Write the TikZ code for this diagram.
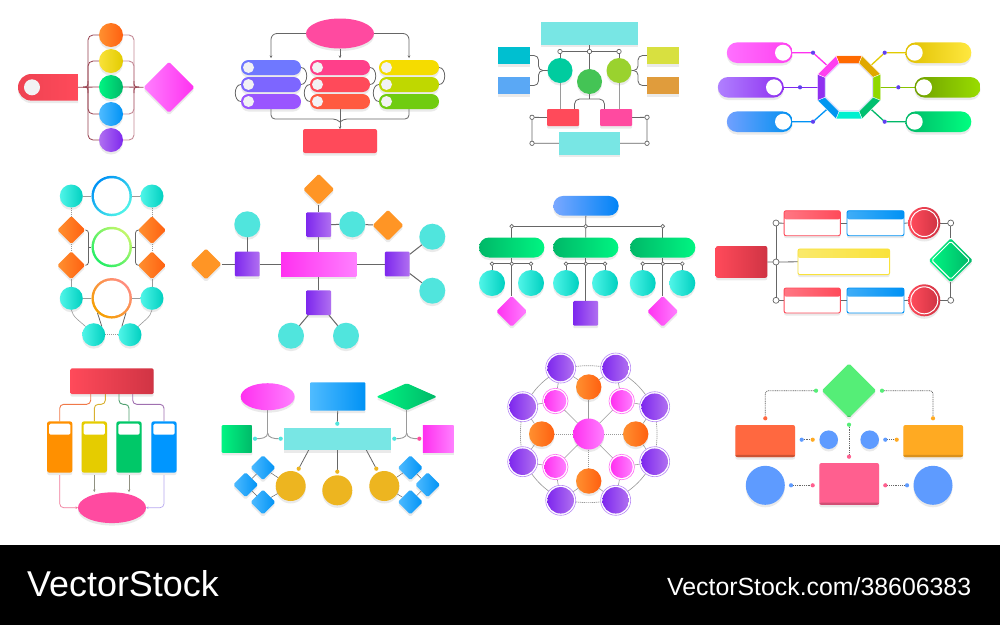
\documentclass[tikz,border=0pt]{standalone}
\usepackage{fontspec}
\setmainfont{Liberation Sans}
\usetikzlibrary{shapes.geometric,shapes.misc,shadows,backgrounds,arrows.meta,calc}
\definecolor{orgA}{HTML}{FF9030}\definecolor{orgB}{HTML}{FF6010}
\definecolor{yelA}{HTML}{F9E23A}\definecolor{yelB}{HTML}{E2CB00}
\definecolor{grnA}{HTML}{00F582}\definecolor{grnB}{HTML}{00B868}
\definecolor{bluA}{HTML}{4FBBFF}\definecolor{bluB}{HTML}{0092F5}
\definecolor{purA}{HTML}{B070F0}\definecolor{purB}{HTML}{7E28EE}
\definecolor{magA}{HTML}{FF80FF}\definecolor{magB}{HTML}{FF30F0}
\definecolor{redA}{HTML}{FF4A5A}\definecolor{redB}{HTML}{D03444}
\definecolor{hot}{HTML}{FF4AA0}
\definecolor{tealA}{HTML}{50F5E8}\definecolor{tealB}{HTML}{00D0C0}
\definecolor{tflat}{HTML}{50E5DD}
\definecolor{aqua}{HTML}{78E6E4}
\definecolor{lblu}{HTML}{7AA8FF}
\definecolor{paper}{HTML}{F2F2F4}
\definecolor{wire}{HTML}{666666}
\definecolor{wireB}{HTML}{9A9A9A}
\definecolor{maroon}{HTML}{96404E}
\definecolor{rose}{HTML}{C48A96}
\definecolor{dotp}{HTML}{6040F0}
\definecolor{gold}{HTML}{EDB520}
\definecolor{orangeflat}{HTML}{FF9525}
\definecolor{skyflat}{HTML}{5E9BFF}
\definecolor{leaf}{HTML}{55EE77}
\definecolor{tomato}{HTML}{FF6840}
\definecolor{amber}{HTML}{FFAA22}
\definecolor{rosepk}{HTML}{FF5F8F}
\definecolor{limeline}{HTML}{88C400}
\definecolor{halo}{HTML}{D4D4FF}
\tikzset{
  gr/.style 2 args={left color=#1,right color=#2,draw=none},
  shad/.style={drop shadow={shadow xshift=0pt,shadow yshift=-2.5pt,opacity=.16}},
  sz/.style 2 args={rectangle,inner sep=0pt,outer sep=0pt,minimum width=#1pt,minimum height=#2pt},
  circ/.style={circle,inner sep=0pt,outer sep=0pt,minimum size=#1pt},
  dia/.style 2 args={diamond,aspect=1,inner sep=0pt,outer sep=0pt,minimum width=#1pt,minimum height=#2pt,rounded corners=1.5pt},
  pill/.style 2 args={rounded rectangle,inner sep=0pt,outer sep=0pt,minimum width=#1pt,minimum height=#2pt},
  ell/.style 2 args={ellipse,inner sep=0pt,outer sep=0pt,minimum width=#1pt,minimum height=#2pt},
  tl/.style={circ=23,gr={tealA}{tealB},shad},
  tlb/.style={circ=26,gr={tealA}{tealB},shad},
  tf/.style={circ=#1,fill=tflat,shad},
  orgd/.style={dia={31}{31},fill=orangeflat,shad},
  orgg/.style={dia={28}{28},gr={orgA}{orgB},shad},
  sq/.style={sz={24.7}{24.7},rounded corners=1pt,gr={purB}{purA},shad},
  magd/.style={dia={31}{31},gr={magB}{magA},shad},
  blud/.style={dia={25}{25},gr={bluA}{bluB},shad},
  ln/.style={draw=wire,line width=.8pt},
  lg/.style={draw=wireB,line width=.9pt},
  lt/.style={draw=wireB,line width=.6pt},
  dl/.style={draw=wire,line width=.7pt,dash pattern=on 1pt off .8pt},
  dg/.style={draw=wireB,line width=.9pt,dash pattern=on 1.2pt off .8pt},
  ju/.style={circ=#1,draw=wire,fill=white,line width=.7pt},
  pt/.style={circ=4.2,fill=#1},
  tip/.style={-{Stealth[length=2.5pt,width=2.5pt]}},
  lip/.style={path picture={\fill[#1] ([yshift=2.2pt]path picture bounding box.south west) rectangle (path picture bounding box.south east);}},
  card/.style n args={4}{sz={#1}{#2},rounded corners=2pt,draw=#3,line width=.9pt,fill=white,shad,
     path picture={\shade[left color=#3!75!white,right color=#3] (path picture bounding box.north west) rectangle ([yshift=-#4pt]path picture bounding box.north east);}},
}
\begin{document}
\begin{tikzpicture}[x=1pt,y=-1pt]
\useasboundingbox (0,0) rectangle (1000,625);
\begin{scope}[on background layer]
\fill[white] (0,0) rectangle (1000,625);
\end{scope}

% ---------- panel 1
\node[circ=24,gr={orgA}{orgB},shad] (a1) at (111,35) {};
\node[circ=24,gr={yelA}{yelB},shad] (a2) at (111,61) {};
\node[circ=24,gr={grnA}{grnB},shad] (a3) at (111,87) {};
\node[circ=24,gr={bluA}{bluB},shad] (a4) at (111,114) {};
\node[circ=24,gr={purA}{purB},shad] (a5) at (111,140) {};
\node[pill={60}{26.6},rounded rectangle east arc=none,gr={redB!35!redA}{redA},shad] (ap) at (48,87.3) {};
\node[circ=16,fill=paper] (apc) at (32,87.3) {};
\node[dia={51}{51},gr={magA}{magB},shad] (ad) at (169,87.3) {};
\coordinate (ajl) at (88,87);
\coordinate (ajr) at (134,87);
\coordinate (atl) at (83,87);
\coordinate (atr) at (139,87);
\begin{scope}[on background layer]
\draw[draw=maroon,line width=.8pt] (ap.east) -- (a3.west);
\draw[draw=maroon,line width=.8pt,rounded corners=5pt] (a1.west) -| (ajl) |- (a5.west);
\draw[draw=maroon,line width=.8pt,rounded corners=5pt] (a2.west) -| (ajl) |- (a4.west);
\draw[draw=maroon,line width=.8pt,rounded corners=3pt] (atl) -| ([yshift=6pt]ajl);
\draw[draw=maroon,line width=.8pt,rounded corners=3pt] (atl) -| ([yshift=-6pt]ajl);
\draw[draw=maroon,line width=.8pt] (a3.east) -- (ad.west);
\draw[draw=rose,line width=.9pt,rounded corners=5pt] (a1.east) -| (ajr) |- (a5.east);
\draw[draw=rose,line width=.9pt,rounded corners=5pt] (a2.east) -| (ajr) |- (a4.east);
\draw[draw=maroon,line width=.8pt,rounded corners=3pt] (atr) -| ([yshift=6pt]ajr);
\draw[draw=maroon,line width=.8pt,rounded corners=3pt] (atr) -| ([yshift=-6pt]ajr);
\end{scope}

% ---------- panel 2
\node[ell={68}{30},fill=hot,shad] (be) at (340,33.5) {};
\foreach \n/\x/\y/\c in {b1/271/67.5/6F78FF,b2/271/84.5/7D66FF,b3/271/101.5/9A55FF,
  b4/340/67.5/FF3F8A,b5/340/84.5/FF4A5A,b6/340/101.5/FF5A40,
  b7/409/67.5/F5DC00,b8/409/84.5/BFD800,b9/409/101.5/70CC10}{
  \definecolor{tmpc}{HTML}{\c}
  \node[pill={60}{15},fill=tmpc,shad] (\n) at (\x,\y) {};
  \node[circ=11,fill=paper] (\n-c) at (\x-22.5,\y) {};
}
\node[sz={74}{24},rounded corners=2pt,fill=redA,shad] (br) at (340,141) {};
\coordinate (bj) at (340,119);
\begin{scope}[on background layer]
\draw[ln,tip,rounded corners=6pt] (be.west) -| ([yshift=2pt]b1.north);
\draw[ln,tip] (be.south) -- ([yshift=2pt]b4.north);
\draw[ln,tip,rounded corners=6pt] (be.east) -| ([yshift=2pt]b7.north);
\draw[ln,rounded corners=4pt] (b3.south) |- ([xshift=-3pt]bj) -- ([yshift=-3pt]bj);
\draw[ln,rounded corners=4pt] (b9.south) |- ([xshift=3pt]bj) -- ([yshift=-3pt]bj);
\draw[ln,tip] (b6.south) -- (br.north);
\draw[ln] (b1.east) to[out=0,in=0,looseness=1.15] (b2.east);
\draw[ln] (b2.west) to[out=180,in=180,looseness=1.15] (b3.west);
\draw[ln] (b4.east) to[out=0,in=0,looseness=1.15] (b5.east);
\draw[ln] (b5.west) to[out=180,in=180,looseness=1.15] (b6.west);
\draw[ln] (b7.east) to[out=0,in=0,looseness=1.15] (b8.east);
\draw[ln] (b8.west) to[out=180,in=180,looseness=1.15] (b9.west);
\end{scope}

% ---------- panel 3
\node[sz={97}{23},fill=aqua,shad] (ct) at (589.5,33.2) {};
\definecolor{tmpc}{HTML}{00BFD0}\node[sz={32}{17},fill=tmpc,shad] (cl1) at (514,55.5) {};
\definecolor{tmpc}{HTML}{5AA8F5}\node[sz={32}{17},fill=tmpc,shad] (cl2) at (514,85.5) {};
\definecolor{tmpc}{HTML}{D8E040}\node[sz={32}{17},fill=tmpc,shad] (cr1) at (663,55.5) {};
\definecolor{tmpc}{HTML}{E09C3C}\node[sz={32}{17},fill=tmpc,shad] (cr2) at (663,85.5) {};
\definecolor{tmpc}{HTML}{00CC9F}\node[circ=25,fill=tmpc,shad] (cc1) at (560,70.5) {};
\definecolor{tmpc}{HTML}{44C455}\node[circ=25,fill=tmpc,shad] (cc2) at (589.5,81.5) {};
\definecolor{tmpc}{HTML}{9AD22E}\node[circ=25,fill=tmpc,shad] (cc3) at (619,70.5) {};
\node[ju=4.4] (cj1) at (560,51.5) {};
\node[ju=4.4] (cj2) at (589.5,51.5) {};
\node[ju=4.4] (cj3) at (619,51.5) {};
\node[sz={32}{17},rounded corners=1pt,fill=redA,shad] (cra) at (563,117.5) {};
\node[sz={32}{17},rounded corners=1pt,fill=hot,shad] (crb) at (616,117.5) {};
\node[sz={61}{23.3},fill=aqua,shad] (cb) at (589.5,143.3) {};
\node[ju=4.4] (cs1) at (532,117.3) {};
\node[ju=4.4] (cs2) at (647,117.3) {};
\node[ju=4.4] (cs3) at (532,143.3) {};
\node[ju=4.4] (cs4) at (647,143.3) {};
\coordinate (ck) at (589.5,99);
\coordinate (cka) at (574.5,109);
\coordinate (ckb) at (604.5,109);
\coordinate (cea) at (560,109);
\coordinate (ceb) at (619,109);
\coordinate (cxl) at (538.5,70.5);
\coordinate (cxr) at (638,70.5);
\begin{scope}[on background layer]
\draw[ln] (ct.south) -- (cj2) -- (cc2.north);
\draw[ln] (cj1) -- (cj2) -- (cj3);
\draw[ln] (cj1) -- (cc1.north);
\draw[ln] (cj3) -- (cc3.north);
\draw[lg] (cc1.south) -- (cea);
\draw[lg] (cc3.south) -- (ceb);
\draw[ln] (cc2.south) -- (ck);
\draw[ln,rounded corners=5pt] (ck) -| (cka);
\draw[ln,rounded corners=5pt] (ck) -| (ckb);
\draw[ln,rounded corners=4.5pt] (cl1.east) -| (cxl) -- (cc1.west);
\draw[ln,rounded corners=4.5pt] (cl2.east) -| (cxl) -- (cc1.west);
\draw[ln,rounded corners=4.5pt] (cr1.west) -| (cxr) -- (cc3.east);
\draw[ln,rounded corners=4.5pt] (cr2.west) -| (cxr) -- (cc3.east);
\draw[ln] (cra.west) -- (cs1) -- (cs3) -- (cb.west);
\draw[ln] (crb.east) -- (cs2) -- (cs4) -- (cb.east);
\end{scope}

% ---------- panel 4
\begin{scope}[shift={(849,87.3)}]
\draw[halo,line width=1pt] (22.5:25.6) -- (67.5:25.6) -- (112.5:25.6) -- (157.5:25.6) -- (202.5:25.6) -- (247.5:25.6) -- (292.5:25.6) -- (337.5:25.6) -- cycle;
\foreach \a/\c/\n in {-90/FF6A00/N,-45/E0A800/NE,0/90D800/E,45/00C070/SE,90/00F0D0/S,135/0096F0/SW,180/9030F0/W,225/FF40F0/NW}{
  \definecolor{tmpc}{HTML}{\c}
  \fill[tmpc,draw=white,line width=.35pt] (\a-22.5:34.1) -- (\a+22.5:34.1) -- (\a+22.5:26) -- (\a-22.5:26) -- cycle;
  \coordinate (d\n) at (\a:30);
}
\end{scope}
\foreach \n/\x/\y/\ca/\cb/\cx in {
 dp1/759.8/52.7/FF70FF/FF40F0/783,
 dp2/750.8/87.3/B080FF/8F30F0/774,
 dp3/759.8/121.7/70A0FF/0090F0/783,
 dp4/938.3/52.7/E0C000/FFE840/914.7,
 dp5/947.5/87.3/70A000/99DD00/924,
 dp6/938.3/121.7/00B868/00FF80/914.7}{
  \definecolor{tmpa}{HTML}{\ca}\definecolor{tmpb}{HTML}{\cb}
  \node[pill={66}{20.6},left color=tmpa,right color=tmpb,shad] (\n) at (\x,\y) {};
  \node[circ=16,fill=white] (\n-c) at (\cx,\y) {};
}
\node[pt=dotp] (dq1) at (813,52.7) {};
\node[pt=dotp] (dq2) at (800,87.3) {};
\node[pt=dotp] (dq3) at (813,121.7) {};
\node[pt=dotp] (dq4) at (884.7,52.7) {};
\node[pt=dotp] (dq5) at (898.3,87.3) {};
\node[pt=dotp] (dq6) at (884.7,121.7) {};
\begin{scope}[on background layer]
\draw[draw=magB,line width=1.3pt] (dp1-c) -- (dq1) -- (dNW);
\draw[draw=purB,line width=1.3pt] (dp2-c) -- (dq2) -- (dW);
\draw[draw=bluB,line width=1.3pt] (dp3-c) -- (dq3) -- (dSW);
\draw[draw=yelB,line width=1.3pt] (dp4-c) -- (dq4) -- (dNE);
\draw[draw=limeline,line width=1.3pt] (dp5-c) -- (dq5) -- (dE);
\draw[draw=grnB,line width=1.3pt] (dp6-c) -- (dq6) -- (dSE);
\end{scope}

% ---------- panel 5
\node[circ=40.5,left color=bluB,right color=tealA,shading angle=45] (e1) at (111.7,196) {};
\node[circ=35.5,fill=white] (e1i) at (111.7,196) {};
\definecolor{ga}{HTML}{22EE66}\definecolor{gb}{HTML}{C4F76A}
\node[circ=40.5,left color=ga,right color=gb,shading angle=135] (e2) at (111.7,247) {};
\node[circ=35.5,fill=white] (e2i) at (111.7,247) {};
\definecolor{oa}{HTML}{F5A000}\definecolor{ob}{HTML}{FF8C80}
\node[circ=40.5,left color=oa,right color=ob,shading angle=135] (e3) at (111.7,298.3) {};
\node[circ=35.5,fill=white] (e3i) at (111.7,298.3) {};
\node[tl] (et1) at (71.3,196) {};
\node[tl] (et2) at (152,196) {};
\node[tl] (et3) at (71.3,298.3) {};
\node[tl] (et4) at (152,298.3) {};
\node[tl] (et5) at (93.7,334.7) {};
\node[tl] (et6) at (130,334.7) {};
\node[orgg] (ed1) at (71.3,230) {};
\node[orgg] (ed2) at (71.3,265.3) {};
\node[orgg] (ed3) at (152,230) {};
\node[orgg] (ed4) at (152,265.3) {};
\coordinate (ejl) at (88.5,247);
\coordinate (ejr) at (135.5,247);
\begin{scope}[on background layer]
\draw[lg] (et1.east) -- (e1.west);
\draw[lg] (e1.east) -- (et2.west);
\draw[lg] (et3.east) -- (e3.west);
\draw[lg] (e3.east) -- (et4.west);
\draw[dg] (et1.south) -- (ed1.north);
\draw[dg] (ed1.south) -- (ed2.north);
\draw[dg] (ed2.south) -- (et3.north);
\draw[dg] (et2.south) -- (ed3.north);
\draw[dg] (ed3.south) -- (ed4.north);
\draw[dg] (ed4.south) -- (et4.north);
\draw[ln,rounded corners=3pt] (ed1.east) -| (ejl) |- (ed2.east);
\draw[ln,rounded corners=3pt] (ed3.west) -| (ejr) |- (ed4.west);
\draw[ln] (ejl) -- (e2.west);
\draw[ln] (ejr) -- (e2.east);
\draw[lt] (et3.south) .. controls +(1,7) and +(-5,-5) .. (et5.north west);
\draw[lt] (et4.south) .. controls +(-1,7) and +(5,-5) .. (et6.north east);
\draw[ln] (e3.south west) -- (et5.north east);
\draw[ln] (e3.south east) -- (et6.north west);
\draw[dg] (et5.east) -- (et6.west);
\end{scope}

% ---------- panel 6
\node[sz={75.3}{24},gr={magB}{magA},shad] (f0) at (318.7,264) {};
\node[sq] (f1) at (247.3,264) {};
\node[sq] (f2) at (397.3,264) {};
\node[sq] (f3) at (318.7,224.7) {};
\node[sq] (f4) at (318.7,302.7) {};
\node[tf=26] (f5) at (247.3,224.3) {};
\node[tf=26] (f6) at (352.3,224.3) {};
\node[tf=26] (f7) at (432.3,236.7) {};
\node[tf=26] (f8) at (432.3,290.7) {};
\node[tf=26] (f9) at (291,335.7) {};
\node[tf=26] (f10) at (346,335.7) {};
\node[orgd] (f11) at (206,264) {};
\node[orgd] (f12) at (318.7,189.3) {};
\node[orgd] (f13) at (388,225.3) {};
\begin{scope}[on background layer]
\draw[ln,line width=1pt] (f1) -- (f0);
\draw[ln,line width=1pt] (f0) -- (f2);
\draw[ln,line width=1pt] (f3) -- (f0);
\draw[ln,line width=1pt] (f0) -- (f4);
\draw[ln,line width=1pt] (f11) -- (f1);
\draw[ln,line width=1pt] (f1) -- (f5);
\draw[ln,line width=1pt] (f12) -- (f3);
\draw[ln,line width=1pt] (f3) -- (f6) -- (f13);
\draw[ln,line width=1pt] (f2) -- (f7);
\draw[ln,line width=1pt] (f2) -- (f8);
\draw[ln,line width=1pt] (f4) -- (f9);
\draw[ln,line width=1pt] (f4) -- (f10);
\end{scope}

% ---------- panel 7
\node[pill={65.4}{19.7},gr={lblu}{bluB!90!blue},shad] (g0) at (586,205.8) {};
\node[ju=3.8] (gj1) at (511.7,226.3) {};
\node[ju=3.8] (gj2) at (585.7,226.3) {};
\node[ju=3.8] (gj3) at (662.7,226.3) {};
\node[pill={65.3}{20},gr={grnB}{grnA},shad] (gp1) at (511.7,247.5) {};
\node[pill={65.3}{20},gr={grnB}{grnA},shad] (gp2) at (585.7,247.5) {};
\node[pill={65.3}{20},gr={grnB}{grnA},shad] (gp3) at (662.7,247.5) {};
\foreach \n/\x in {m1/492,m2/511.7,m3/531,m4/566,m5/585.7,m6/605,m7/642.7,m8/662.7,m9/682.3}{
  \node[ju=3.8] (g\n) at (\x,263.7) {};
}
\node[tlb] (gc1) at (492,283) {};
\node[tlb] (gc2) at (531,283) {};
\node[tlb] (gc3) at (566,283) {};
\node[tlb] (gc4) at (605,283) {};
\node[tlb] (gc5) at (642.7,283) {};
\node[tlb] (gc6) at (682.3,283) {};
\node[magd] (gd1) at (511.7,311.3) {};
\node[sq] (gd2) at (585.7,313.3) {};
\node[magd] (gd3) at (662.7,311.3) {};
\begin{scope}[on background layer]
\draw[ln] (g0) -- (gj2) -- (gp2);
\draw[ln] (gj1) -- (gj2) -- (gj3);
\draw[ln] (gj1) -- (gp1);
\draw[ln] (gj3) -- (gp3);
\draw[ln] (gm1) -- (gm2) -- (gm3);
\draw[ln] (gm4) -- (gm5) -- (gm6);
\draw[ln] (gm7) -- (gm8) -- (gm9);
\draw[ln] (gm1) -- (gc1);
\draw[ln] (gm3) -- (gc2);
\draw[ln] (gm4) -- (gc3);
\draw[ln] (gm6) -- (gc4);
\draw[ln] (gm7) -- (gc5);
\draw[ln] (gm9) -- (gc6);
\draw[ln] (gp1) -- (gm2) -- (gd1);
\draw[ln] (gp2) -- (gm5) -- (gd2);
\draw[ln] (gp3) -- (gm8) -- (gd3);
\end{scope}

% ---------- panel 8
\node[sz={51.6}{31.7},rounded corners=2pt,gr={redA}{redB},shad] (h0) at (741.5,261.9) {};
\node[ju=6] (hj1) at (776,223) {};
\node[ju=6] (hj2) at (776,262) {};
\node[ju=6] (hj3) at (776,300.3) {};
\node[ju=6] (hj4) at (950.7,223) {};
\node[ju=6] (hj5) at (950.7,300.3) {};
\node[card={56.3}{25}{redA}{8.6}] (hc1) at (812.2,223.2) {};
\node[card={57}{25}{bluB}{8.6}] (hc2) at (875.5,223.2) {};
\node[card={91.7}{25.7}{yelA}{9}] (hc3) at (843.8,261.8) {};
\node[card={56.3}{25}{redA}{8.6}] (hc4) at (812.2,300.5) {};
\node[card={57}{25}{bluB}{8.6}] (hc5) at (875.5,300.5) {};
\node[circ=32,gr={redA}{redB},shad] (hr1) at (924.3,223) {};
\node[circ=27,gr={redA}{redB},draw=white,line width=1pt] (hr1i) at (924.3,223) {};
\node[circ=32,gr={redA}{redB},shad] (hr2) at (924.3,300.3) {};
\node[circ=27,gr={redA}{redB},draw=white,line width=1pt] (hr2i) at (924.3,300.3) {};
\node[dia={44}{44},gr={grnA}{grnB},shad] (hd) at (950.7,260.3) {};
\node[dia={38}{38},gr={grnA}{grnB},draw=white,line width=1pt] (hdi) at (950.7,260.3) {};
\begin{scope}[on background layer]
\draw[ln] (h0.east) -- (hj2);
\draw[ln] (hj1) -- (hj2) -- (hj3);
\draw[ln] (hj2) -- (hc3.west);
\draw[ln] (hj1) -- (hc1.west);
\draw[ln] (hc1.east) -- (hc2.west);
\draw[ln] (hc2.east) -- (hr1.west);
\draw[ln] (hr1.east) -- (hj4);
\draw[ln] (hj4) -- (hd.north);
\draw[ln] (hj3) -- (hc4.west);
\draw[ln] (hc4.east) -- (hc5.west);
\draw[ln] (hc5.east) -- (hr2.west);
\draw[ln] (hr2.east) -- (hj5);
\draw[ln] (hj5) -- (hd.south);
\end{scope}

% ---------- panel 9
\node[sz={83.4}{25.7},rounded corners=1.5pt,gr={redA}{redB},shad] (k0) at (112,381.2) {};
\foreach \n/\x/\c in {k1/59.7/FF9000,k2/94.3/E5CC00,k3/129/00C868,k4/164/0096FF}{
  \definecolor{tmpc}{HTML}{\c}
  \node[sz={25.4}{51.4},rounded corners=2.5pt,fill=tmpc,shad] (\n) at (\x,447) {};
  \node[sz={21.3}{11},rounded corners=1.5pt,fill=white] (\n-w) at (\x,429.2) {};
}
\node[ell={68}{30.7},fill=hot,shad] (ke) at (112,507.7) {};
\coordinate (ks1) at (90.7,394);
\coordinate (ks2) at (105.3,394);
\coordinate (ks3) at (119,394);
\coordinate (ks4) at (132.7,394);
\coordinate (kh1) at (90.7,404.3);
\coordinate (kh2) at (105.3,404.3);
\coordinate (kh3) at (119,404.3);
\coordinate (kh4) at (132.7,404.3);
\coordinate (ke2) at (94.3,492);
\coordinate (ke3) at (129,492);
\definecolor{wa}{HTML}{F07848}\definecolor{wb}{HTML}{D8B030}\definecolor{wc}{HTML}{50A070}\definecolor{wd}{HTML}{A070B0}
\definecolor{we}{HTML}{F07A9A}\definecolor{wf}{HTML}{B8A8F0}
\begin{scope}[on background layer]
\draw[draw=wa,line width=.9pt,rounded corners=4pt] (ks1) -- (kh1) -| (k1.north);
\draw[draw=wb,line width=.9pt,rounded corners=4pt] (ks2) -- (kh2) -| (k2.north);
\draw[draw=wc,line width=.9pt,rounded corners=4pt] (ks3) -- (kh3) -| (k3.north);
\draw[draw=wd,line width=.9pt,rounded corners=4pt] (ks4) -- (kh4) -| (k4.north);
\draw[draw=we,line width=.7pt,rounded corners=4pt,tip] ([yshift=-2.5pt]k1.south) |- (ke.west);
\draw[draw=wc!60!we,line width=.7pt,tip] ([yshift=-2.5pt]k2.south) -- (ke2);
\draw[draw=wc!60!we,line width=.7pt,tip] ([yshift=-2.5pt]k3.south) -- (ke3);
\draw[draw=wf,line width=.7pt,rounded corners=4pt,tip] ([yshift=-2.5pt]k4.south) |- (ke.east);
\end{scope}

% ---------- panel 10
\node[ell={54}{27},gr={magB}{magA},shad] (l1) at (267.7,396.7) {};
\node[sz={55.3}{28.4},rounded corners=1pt,gr={bluA}{bluB},shad] (l2) at (337.7,396.5) {};
\node[dia={60.7}{27},aspect=2.25,gr={grnA}{grnB},shad] (l3) at (406.7,396.7) {};
\node[sz={106.7}{22},fill=aqua,shad] (l0) at (337.3,439) {};
\node[sz={30.6}{27.7},rounded corners=1pt,gr={grnA}{grnB},shad] (l4) at (237,438.9) {};
\node[sz={30.7}{27.7},gr={magB}{magA},shad] (l5) at (438.3,438.9) {};
\node[pt=tflat] (lp1) at (255,438.7) {};
\node[pt=tflat] (lp2) at (280.7,438.7) {};
\node[pt=tflat] (lp3) at (337.3,423.7) {};
\node[pt=tflat] (lp4) at (394.3,438.7) {};
\node[pt=hot] (lp5) at (419.3,438.7) {};
\node[pt=gold] (lp6) at (298.7,468.7) {};
\node[pt=gold] (lp7) at (337.3,471.7) {};
\node[pt=gold] (lp8) at (376.3,468.7) {};
\node[circ=30,fill=gold,shad] (lc1) at (290.7,486) {};
\node[circ=30,fill=gold,shad] (lc2) at (337.3,490.3) {};
\node[circ=30,fill=gold,shad] (lc3) at (384.3,486) {};
\node[blud] (ld1) at (263,467.7) {};
\node[blud] (ld2) at (245.7,484.7) {};
\node[blud] (ld3) at (263,502) {};
\node[blud] (ld4) at (410.3,467.7) {};
\node[blud] (ld5) at (427.7,484.7) {};
\node[blud] (ld6) at (410.3,502) {};
\coordinate (lj1) at (267.7,433);
\coordinate (lj2) at (406.7,433);
\coordinate (ls1) at (308.7,450);
\coordinate (ls2) at (366.3,450);
\begin{scope}[on background layer]
\draw[lg,line width=1.2pt] (l1.south) -- (lj1);
\draw[lg] (lj1) .. controls +(0,5) and +(6,0) .. (lp1);
\draw[lg] (lj1) .. controls +(0,5) and +(-6,0) .. (lp2);
\draw[lg,line width=1.2pt] (l3.south) -- (lj2);
\draw[lg] (lj2) .. controls +(0,5) and +(6,0) .. (lp4);
\draw[lg] (lj2) .. controls +(0,5) and +(-6,0) .. (lp5);
\draw[ln] (l2.south) -- (lp3);
\draw[ln] (l0.south) -- (lp7);
\draw[ln] (ls1) -- (lp6);
\draw[ln] (ls2) -- (lp8);
\draw[ln,line width=.5pt] (ld1) -- (lc1);
\draw[ln,line width=.5pt] (ld3) -- (lc1);
\draw[ln,line width=.5pt] (ld1) -- (ld2) -- (ld3);
\draw[ln,line width=.5pt] (ld4) -- (lc3);
\draw[ln,line width=.5pt] (ld6) -- (lc3);
\draw[ln,line width=.5pt] (ld4) -- (ld5) -- (ld6);
\end{scope}

% ---------- panel 11
\node[circ=31,gr={magB}{magA},shad] (n0) at (588.7,434) {};
\node[circ=25.4,gr={orgA}{orgB},shad] (no1) at (588.7,387) {};
\node[circ=25.4,gr={orgA}{orgB},shad] (no2) at (588.7,481) {};
\node[circ=25.4,gr={orgA}{orgB},shad] (no3) at (541.7,434) {};
\node[circ=25.4,gr={orgA}{orgB},shad] (no4) at (635.7,434) {};
\foreach \n/\x/\y in {nk1/555.3/401,nk2/621.7/401,nk3/555.3/467,nk4/621.7/467}{
  \node[circ=25.5,draw=magB!70!white,fill=white,line width=.6pt] (\n) at (\x,\y) {};
  \node[circ=22,gr={magB}{magA}] (\n-i) at (\x,\y) {};
}
\foreach \n/\x/\y in {np1/560.7/368,np2/615.7/368,np3/522.7/406.7,np4/654.7/406.7,np5/522.7/461.7,np6/654.7/461.7,np7/560.7/500.3,np8/615.7/500.3}{
  \node[circ=30,draw=purB!55!white,fill=white,line width=.6pt] (\n) at (\x,\y) {};
  \node[circ=26.5,gr={purB}{purA}] (\n-i) at (\x,\y) {};
}
\begin{scope}[on background layer]
\draw[dg,line width=.7pt] (np1) to[bend left=6] (np2);
\draw[lt] (np2) to[bend left=8] (np4);
\draw[dg,line width=.7pt] (np4) to[bend left=6] (np6);
\draw[lt] (np6) to[bend left=8] (np8);
\draw[dg,line width=.7pt] (np8) to[bend left=6] (np7);
\draw[lt] (np7) to[bend left=8] (np5);
\draw[dg,line width=.7pt] (np5) to[bend left=6] (np3);
\draw[lt] (np3) to[bend left=8] (np1);
\draw[dg] (n0) -- (no1);
\draw[dg] (n0) -- (no2);
\draw[dg] (n0) -- (no3);
\draw[dg] (n0) -- (no4);
\draw[lt] (n0) -- (nk1);
\draw[lt] (n0) -- (nk2);
\draw[lt] (n0) -- (nk3);
\draw[lt] (n0) -- (nk4);
\draw[lt] (nk1) -- (np1); \draw[lt] (nk1) -- (np3);
\draw[lt] (nk2) -- (np2); \draw[lt] (nk2) -- (np4);
\draw[lt] (nk3) -- (np5); \draw[lt] (nk3) -- (np7);
\draw[lt] (nk4) -- (np6); \draw[lt] (nk4) -- (np8);
\draw[lt] (no1) -- (np1); \draw[lt] (no1) -- (np2);
\draw[lt] (no2) -- (np7); \draw[lt] (no2) -- (np8);
\draw[lt] (no3) -- (np3); \draw[lt] (no3) -- (np5);
\draw[lt] (no4) -- (np4); \draw[lt] (no4) -- (np6);
\end{scope}

% ---------- panel 12
\node[dia={54.5}{54.5},fill=leaf,shad,lip=leaf!80!black] (q0) at (849,390.7) {};
\node[sz={59.7}{32},rounded corners=2pt,fill=tomato,shad,lip=tomato!80!black] (q1) at (765.2,441) {};
\node[sz={59.7}{32},rounded corners=2pt,fill=amber,shad,lip=amber!85!black] (q2) at (933.2,441) {};
\node[sz={59.7}{41.7},rounded corners=2pt,fill=rosepk,shad,lip=rosepk!82!black] (q3) at (849.2,483.9) {};
\node[circ=18.6,fill=skyflat,shad] (q4) at (828.7,439.7) {};
\node[circ=18.6,fill=skyflat,shad] (q5) at (869.7,439.7) {};
\node[circ=39,fill=skyflat,shad] (q6) at (765.3,485.3) {};
\node[circ=39,fill=skyflat,shad] (q7) at (933,485.3) {};
\node[pt=leaf] (qd1) at (816,390.7) {};
\node[pt=leaf] (qd2) at (882,390.7) {};
\node[pt=leaf] (qd3) at (849,424.7) {};
\node[pt=rosepk] (qd4) at (849,456.7) {};
\node[pt=tomato] (qd5) at (765.3,418.3) {};
\node[pt=amber] (qd6) at (933,418.3) {};
\node[pt=skyflat] (qd7) at (801.7,439.7) {};
\node[pt=amber] (qd8) at (812.7,439.7) {};
\node[pt=skyflat] (qd9) at (885.3,439.7) {};
\node[pt=amber] (qd10) at (896.7,439.7) {};
\node[pt=skyflat] (qd11) at (791,485.3) {};
\node[pt=rosepk] (qd12) at (812.7,485.3) {};
\node[pt=rosepk] (qd13) at (885.3,485.3) {};
\node[pt=skyflat] (qd14) at (907,485.3) {};
\begin{scope}[on background layer]
\draw[dl,rounded corners=3pt] (qd1) -| (qd5);
\draw[dl,rounded corners=3pt] (qd2) -| (qd6);
\draw[dl] (qd3) -- (qd4);
\draw[dl] (qd7) -- (qd8);
\draw[dl] (qd9) -- (qd10);
\draw[dl] (qd11) -- (qd12);
\draw[dl] (qd13) -- (qd14);
\end{scope}

% ---------- band
\fill[black] (0,545) rectangle (1000,625);
\node[anchor=base west,inner sep=0pt,text=white,font=\fontsize{35.9}{36}\selectfont] (v1) at (27,596.7) {VectorStock};
\node[anchor=base west,inner sep=0pt,text=white,font=\fontsize{24.85}{26}\selectfont] (v2) at (667,595.3) {VectorStock.com/38606383};
\end{tikzpicture}
\end{document}
